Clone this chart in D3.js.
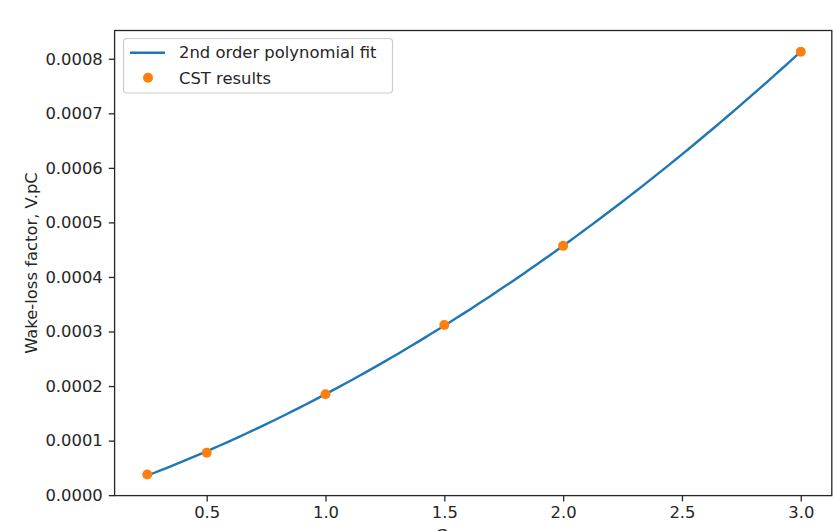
<!DOCTYPE html>
<html>
<head>
<meta charset="utf-8">
<script src="https://cdn.jsdelivr.net/npm/d3@7"></script>
<style>
  html, body { margin: 0; padding: 0; background: #fff; overflow: hidden; }
  svg { display: block; font-family: "DejaVu Sans", sans-serif; }
</style>
</head>
<body>
<svg id="chart" width="833" height="531"></svg>
<script>
// CST simulation results
const xValues = [0.25, 0.5, 1.0, 1.5, 2.0, 3.0];
const cstResults = [0.0000380, 0.0000776, 0.000185, 0.000312, 0.000457, 0.000813];

// Axis ticks
const xTicks = [0.5, 1.0, 1.5, 2.0, 2.5, 3.0];
const yTicks = [0.0000, 0.0001, 0.0002, 0.0003, 0.0004, 0.0005, 0.0006, 0.0007, 0.0008];

const seriesNames = ["2nd order polynomial fit", "CST results"];
const xLabel = "Gap, mm";
const yLabel = "Wake-loss factor, V.pC";

const blue = "#1f77b4", orange = "#ff7f0e", ink = "#262626";

// Least-squares quadratic fit of the CST results
function polyfit2(xs, ys) {
  const S = [0, 0, 0, 0, 0], T = [0, 0, 0];
  xs.forEach((xv, i) => {
    for (let k = 0; k < 5; k++) S[k] += Math.pow(xv, k);
    for (let k = 0; k < 3; k++) T[k] += ys[i] * Math.pow(xv, k);
  });
  const A = [[S[0], S[1], S[2], T[0]], [S[1], S[2], S[3], T[1]], [S[2], S[3], S[4], T[2]]];
  for (let i = 0; i < 3; i++) {
    for (let j = i + 1; j < 3; j++) {
      const f = A[j][i] / A[i][i];
      for (let k = i; k < 4; k++) A[j][k] -= f * A[i][k];
    }
  }
  const c = [0, 0, 0];
  for (let i = 2; i >= 0; i--) {
    let s = A[i][3];
    for (let k = i + 1; k < 3; k++) s -= A[i][k] * c[k];
    c[i] = s / A[i][i];
  }
  return xv => c[0] + c[1] * xv + c[2] * xv * xv;
}
const fit = polyfit2(xValues, cstResults);
const xMin = d3.min(xValues), xMax = d3.max(xValues);
const fitX = d3.range(100).map(i => xMin + (xMax - xMin) * i / 99);

const svg = d3.select("#chart");
const plotLeft = 114.6, plotRight = 831.8, plotTop = 30.5, plotBottom = 495.6;

const x = d3.scaleLinear().domain([0.1125, 3.1305]).range([plotLeft, plotRight]);
const y = d3.scaleLinear().domain([-0.0000008, 0.0008518]).range([plotBottom, plotTop]);

// Axes
const fontSize = 16.4;
const xAxis = svg.append("g")
  .attr("transform", `translate(0,${plotBottom})`)
  .call(d3.axisBottom(x).tickValues(xTicks).tickFormat(d3.format(".1f")).tickSize(5.8).tickPadding(5));
const yAxis = svg.append("g")
  .attr("transform", `translate(${plotLeft},0)`)
  .call(d3.axisLeft(y).tickValues(yTicks).tickFormat(d3.format(".4f")).tickSize(5.8).tickPadding(6));
[xAxis, yAxis].forEach(g => {
  g.select(".domain").remove();
  g.selectAll(".tick line").attr("stroke", ink).attr("stroke-width", 1.3);
  g.selectAll(".tick text").attr("fill", ink)
    .style("font-family", "'DejaVu Sans', sans-serif").style("font-size", fontSize + "px");
});

// Fit curve
svg.append("path")
  .datum(fitX)
  .attr("fill", "none")
  .attr("stroke", blue)
  .attr("stroke-width", 2.4)
  .attr("stroke-linecap", "square")
  .attr("d", d3.line().x(d => x(d)).y(d => y(fit(d))));

// Simulation points
svg.append("g").selectAll("circle")
  .data(xValues)
  .join("circle")
  .attr("cx", d => x(d))
  .attr("cy", (d, i) => y(cstResults[i]))
  .attr("r", 5)
  .attr("fill", orange);

// Frame
svg.append("rect")
  .attr("x", plotLeft).attr("y", plotTop)
  .attr("width", plotRight - plotLeft).attr("height", plotBottom - plotTop)
  .attr("fill", "none").attr("stroke", ink).attr("stroke-width", 1.3);

// Legend
const lg = svg.append("g");
lg.append("rect")
  .attr("x", 123.5).attr("y", 38.5).attr("width", 269).attr("height", 54.5)
  .attr("rx", 3.5).attr("fill", "#fff").attr("fill-opacity", 0.8)
  .attr("stroke", "#cccccc").attr("stroke-width", 1.2);
lg.append("line")
  .attr("x1", 130).attr("x2", 165).attr("y1", 52.7).attr("y2", 52.7)
  .attr("stroke", blue).attr("stroke-width", 2.4);
lg.append("circle").attr("cx", 148).attr("cy", 77.7).attr("r", 5).attr("fill", orange);
lg.selectAll("text")
  .data(seriesNames)
  .join("text")
  .attr("x", 179)
  .attr("y", (d, i) => 57.6 + i * 26.5)
  .attr("fill", ink)
  .style("font-size", fontSize + "px")
  .text(d => d);

// Axis titles
svg.append("text")
  .attr("transform", `translate(36.5,${(plotTop + plotBottom) / 2}) rotate(-90)`)
  .attr("text-anchor", "middle")
  .attr("fill", ink)
  .style("font-size", fontSize + "px")
  .text(yLabel);
svg.append("text")
  .attr("x", (plotLeft + plotRight) / 2)
  .attr("y", 541)
  .attr("text-anchor", "middle")
  .attr("fill", ink)
  .style("font-size", fontSize + "px")
  .text(xLabel);
</script>
</body>
</html>
